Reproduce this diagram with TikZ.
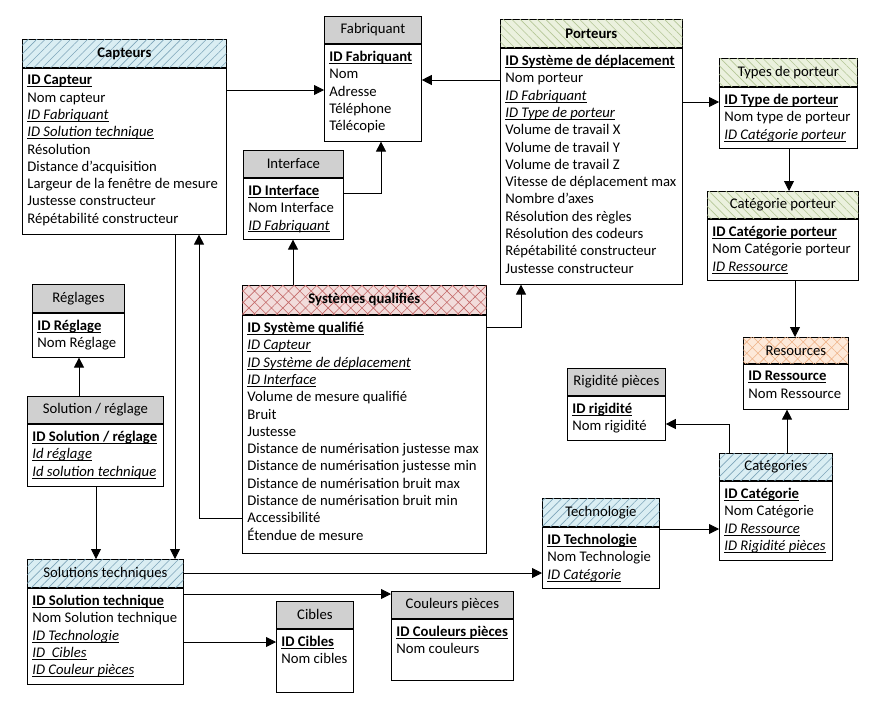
\documentclass[tikz,border=0pt]{standalone}
\usepackage{fontspec}
\setmainfont{Carlito}
\usepackage{tikz}
\usetikzlibrary{positioning}
\usetikzlibrary{arrows.meta}
\usetikzlibrary{patterns.meta}

\newcommand{\ulbox}[1]{\leavevmode\setbox0\hbox{#1}\rlap{\rule[-2.2pt]{\wd0}{0.8pt}}\box0}
\newcommand{\pk}[1]{\ulbox{\textbf{#1}}}
\newcommand{\fk}[1]{\ulbox{\textit{#1}}}
\newcommand{\entbody}[3]{\parbox[t][#1pt][t]{#2pt}{\leftskip=5pt\baselineskip=17.3pt\vspace*{7pt}#3}}

\definecolor{headgray}{RGB}{208,208,208}
\definecolor{blueb}{RGB}{218,238,243}
\definecolor{bluel}{RGB}{125,165,185}
\definecolor{greenb}{RGB}{235,241,222}
\definecolor{greenl}{RGB}{180,198,150}
\definecolor{redb}{RGB}{242,220,219}
\definecolor{redl}{RGB}{195,105,105}
\definecolor{orangeb}{RGB}{253,233,217}
\definecolor{orangel}{RGB}{238,178,135}

\tikzset{
  hd/.style={draw, line width=0.8pt, inner sep=0pt, anchor=north west},
  bd/.style={draw, line width=0.8pt, inner sep=0pt, anchor=north west, fill=white},
  grayh/.style={fill=headgray},
  blueh/.style={fill=blueb, postaction={pattern={Lines[angle=45,distance=6pt,line width=0.6pt]}, pattern color=bluel}},
  greenh/.style={fill=greenb, postaction={pattern={Lines[angle=-45,distance=6pt,line width=0.6pt]}, pattern color=greenl}},
  redh/.style={fill=redb, postaction={pattern={Hatch[angle=45,distance=8pt,line width=0.6pt]}, pattern color=redl}},
  orangeh/.style={fill=orangeb, postaction={pattern={Hatch[angle=45,distance=8pt,line width=0.6pt]}, pattern color=orangel}},
  link/.style={line width=0.8pt, -{Triangle[length=10pt,width=10pt]}}
}

\begin{document}
\begin{tikzpicture}[x=1pt, y=1pt, font=\fontsize{14.7}{17.3}\selectfont]
  \useasboundingbox (0,0) rectangle (869,-704);

  % entities
  \node[hd, blueh, minimum width=204pt, minimum height=28pt] (capH) at (22,-39) {\textbf{Capteurs}};
  \node[bd] (cap) at (capH.south west) {\entbody{166}{204}{\pk{ID Capteur}\\Nom capteur\\\fk{ID Fabriquant}\\\fk{ID Solution technique}\\Résolution\\Distance d’acquisition\\Largeur de la fenêtre de mesure\\Justesse constructeur\\Répétabilité constructeur}};

  \node[hd, grayh, minimum width=97pt, minimum height=27pt] (fabH) at (324,-16) {Fabriquant};
  \node[bd] (fab) at (fabH.south west) {\entbody{97}{97}{\pk{ID Fabriquant}\\Nom\\Adresse\\Téléphone\\Télécopie}};

  \node[hd, greenh, minimum width=182pt, minimum height=28pt] (porH) at (500,-19) {\textbf{Porteurs}};
  \node[bd] (por) at (porH.south west) {\entbody{236}{182}{\pk{ID Système de déplacement}\\Nom porteur\\\fk{ID Fabriquant}\\\fk{ID Type de porteur}\\Volume de travail X\\Volume de travail Y\\Volume de travail Z\\Vitesse de déplacement max\\Nombre d’axes\\Résolution des règles\\Résolution des codeurs\\Répétabilité constructeur\\Justesse constructeur}};

  \node[hd, greenh, minimum width=138pt, minimum height=28pt] (typH) at (719,-58) {Types de porteur};
  \node[bd] (typ) at (typH.south west) {\entbody{61}{138}{\pk{ID Type de porteur}\\Nom type de porteur\\\fk{ID Catégorie porteur}}};

  \node[hd, greenh, minimum width=151pt, minimum height=27pt] (catpH) at (707,-191) {Catégorie porteur};
  \node[bd] (catp) at (catpH.south west) {\entbody{61}{151}{\pk{ID Catégorie porteur}\\Nom Catégorie porteur\\\fk{ID Ressource}}};

  \node[hd, grayh, minimum width=100pt, minimum height=27pt] (intH) at (243,-150) {Interface};
  \node[bd] (int) at (intH.south west) {\entbody{61}{100}{\pk{ID Interface}\\Nom Interface\\\fk{ID Fabriquant}}};

  \node[hd, grayh, minimum width=92pt, minimum height=28pt] (regH) at (32,-284) {Réglages};
  \node[bd] (reg) at (regH.south west) {\entbody{44}{92}{\pk{ID Réglage}\\Nom Réglage}};

  \node[hd, grayh, minimum width=136pt, minimum height=27pt] (solH) at (27,-396) {Solution / réglage};
  \node[bd] (sol) at (solH.south west) {\entbody{62}{136}{\pk{ID Solution / réglage}\\\fk{Id réglage}\\\fk{Id solution technique}}};

  \node[hd, redh, minimum width=244pt, minimum height=29pt] (sysH) at (242,-285) {\textbf{Systèmes qualifiés}};
  \node[bd] (sys) at (sysH.south west) {\entbody{238}{244}{\pk{ID Système qualifié}\\\fk{ID Capteur}\\\fk{ID Système de déplacement}\\\fk{ID Interface}\\Volume de mesure qualifié\\Bruit\\Justesse\\Distance de numérisation justesse max\\Distance de numérisation justesse min\\Distance de numérisation bruit max\\Distance de numérisation bruit min\\Accessibilité\\Étendue de mesure}};

  \node[hd, orangeh, minimum width=105pt, minimum height=26pt] (resH) at (743,-337) {Resources};
  \node[bd] (res) at (resH.south west) {\entbody{45}{105}{\pk{ID Ressource}\\Nom Ressource}};

  \node[hd, grayh, minimum width=98pt, minimum height=27pt] (rigH) at (567,-368) {Rigidité pièces};
  \node[bd] (rig) at (rigH.south west) {\entbody{44}{98}{\pk{ID rigidité}\\Nom rigidité}};

  \node[hd, blueh, minimum width=113pt, minimum height=27pt] (catH) at (719,-453) {Catégories};
  \node[bd] (cat) at (catH.south west) {\entbody{79}{113}{\pk{ID Catégorie}\\Nom Catégorie\\\fk{ID Ressource}\\\fk{ID Rigidité pièces}}};

  \node[hd, blueh, minimum width=117pt, minimum height=28pt] (tecH) at (542,-498) {Technologie};
  \node[bd] (tec) at (tecH.south west) {\entbody{61}{117}{\pk{ID Technologie}\\Nom Technologie\\\fk{ID Catégorie}}};

  \node[hd, blueh, minimum width=156pt, minimum height=28pt] (stH) at (27,-559) {Solutions techniques};
  \node[bd] (st) at (stH.south west) {\entbody{96}{156}{\pk{ID Solution technique}\\Nom Solution technique\\\fk{ID Technologie}\\\fk{ID~ Cibles}\\\fk{ID Couleur pièces}}};

  \node[hd, grayh, minimum width=77pt, minimum height=27pt] (cibH) at (276,-601) {Cibles};
  \node[bd] (cib) at (cibH.south west) {\entbody{63}{77}{\pk{ID Cibles}\\Nom cibles}};

  \node[hd, grayh, minimum width=122pt, minimum height=27pt] (couH) at (391,-591) {Couleurs pièces};
  \node[bd] (cou) at (couH.south west) {\entbody{61}{122}{\pk{ID Couleurs pièces}\\Nom couleurs}};

  % links
  \draw[link] (cap.east |- 0,-90) -- (fab.west |- 0,-90);
  \draw[link] (por.west |- 0,-80) -- (fab.east |- 0,-80);
  \draw[link] (int.east |- 0,-193) -| (fab.south -| 381,0);
  \draw[link] (por.east |- 0,-102) -- (typ.west |- 0,-102);
  \draw[link] (typ.south -| 789,0) -- (catpH.north -| 789,0);
  \draw[link] (catp.south -| 795,0) -- (resH.north -| 795,0);
  \draw[link] (catH.north -| 729,0) |- (rig.east |- 0,-424);
  \draw[link] (catH.north -| 787,0) -- (res.south -| 787,0);
  \draw[link] (tec.east |- 0,-529) -- (cat.west |- 0,-529);
  \draw[link] (sys.east |- 0,-327) -| (por.south -| 521,0);
  \draw[link] (sysH.north -| 293,0) -- (int.south -| 293,0);
  \draw[link] (sys.west |- 0,-518) -| (cap.south -| 199,0);
  \draw[link] (cap.south -| 175,0) -- (stH.north -| 175,0);
  \draw[link] (solH.north -| 79,0) -- (reg.south -| 79,0);
  \draw[link] (sol.south -| 96,0) -- (stH.north -| 96,0);
  \draw[link] (stH.east |- 0,-573) -- (tec.west |- 0,-573);
  \draw[link] (st.east |- 0,-594) -- (couH.west |- 0,-594);
  \draw[link] (st.east |- 0,-642) -- (cib.west |- 0,-642);
\end{tikzpicture}
\end{document}
